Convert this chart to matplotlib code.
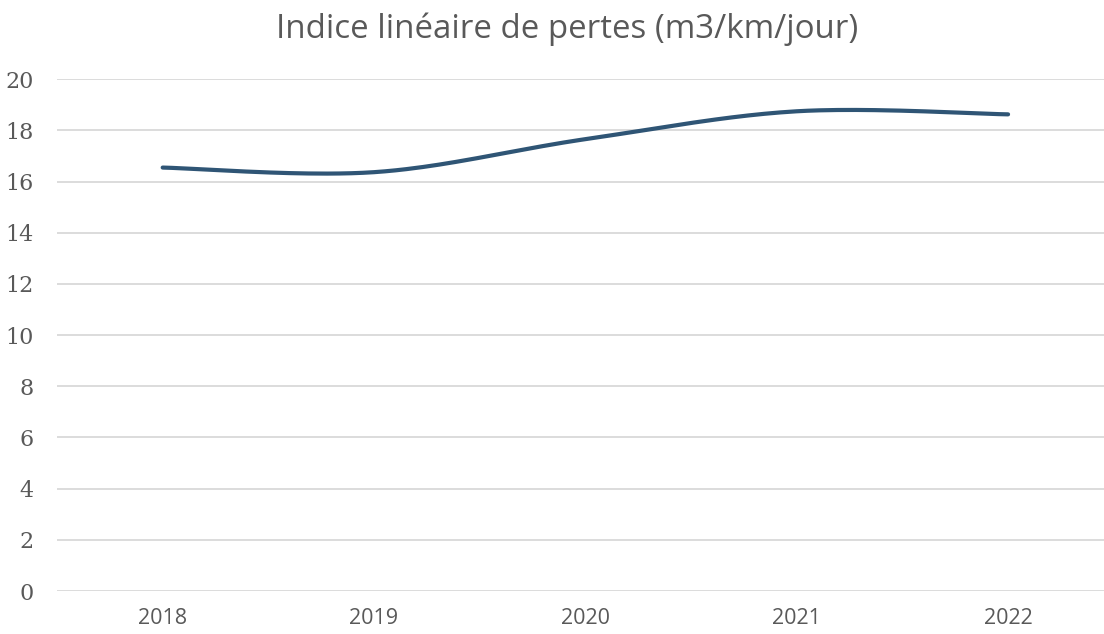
import matplotlib
matplotlib.use('Agg')
import numpy as np
import matplotlib.pyplot as plt

years = ['2018', '2019', '2020', '2021', '2022']
ilp = [16.55, 16.37, 17.66, 18.75, 18.63]
yticks = [0, 2, 4, 6, 8, 10, 12, 14, 16, 18, 20]
title = 'Indice linéaire de pertes (m3/km/jour)'

txt = '#595959'

fig = plt.figure(figsize=(11.04, 6.34), dpi=100)
ax = fig.add_axes([57/1104, 43/634, 1 - 57/1104, (591-79.3)/634])

# smoothed line like the spreadsheet's "smooth" option (Catmull-Rom bezier)
x = np.arange(len(ilp), dtype=float)
y = np.array(ilp)
xs, ys = [], []
t = np.linspace(0, 1, 40)
for i in range(len(x) - 1):
    p0 = np.array([x[max(i-1, 0)], y[max(i-1, 0)]])
    p1 = np.array([x[i], y[i]])
    p2 = np.array([x[i+1], y[i+1]])
    p3 = np.array([x[min(i+2, len(x)-1)], y[min(i+2, len(x)-1)]])
    c1 = p1 + (p2 - p0) / 6
    c2 = p2 - (p3 - p1) / 6
    pts = ((1-t)**3)[:, None]*p1 + (3*(1-t)**2*t)[:, None]*c1 + (3*(1-t)*t**2)[:, None]*c2 + (t**3)[:, None]*p2
    xs.extend(pts[:, 0]); ys.extend(pts[:, 1])
ax.plot(xs, ys, color='#2F5575', lw=3.0, solid_capstyle='round', zorder=3)

ax.set_xlim(-0.5, (1104-162)/211.5)
ax.set_ylim(0, 20)
ax.set_yticks(yticks)
ax.set_yticklabels([str(v) for v in yticks], fontsize=16, color=txt, family='DejaVu Serif')
ax.set_xticks(x)
ax.set_xticklabels(years, fontsize=15.5, color=txt, family='Open Sans')
ax.yaxis.grid(True, color='#D9D9D9', lw=1.3)
ax.set_axisbelow(True)
for s in ax.spines.values():
    s.set_visible(False)
ax.tick_params(length=0)
ax.tick_params(axis='y', pad=17)
ax.tick_params(axis='x', pad=12)

fig.text(567/1104, 1 - 29/634, title, fontsize=23.8, color=txt, family='Open Sans',
         ha='center', va='center')

plt.savefig('out.png', dpi=100)
